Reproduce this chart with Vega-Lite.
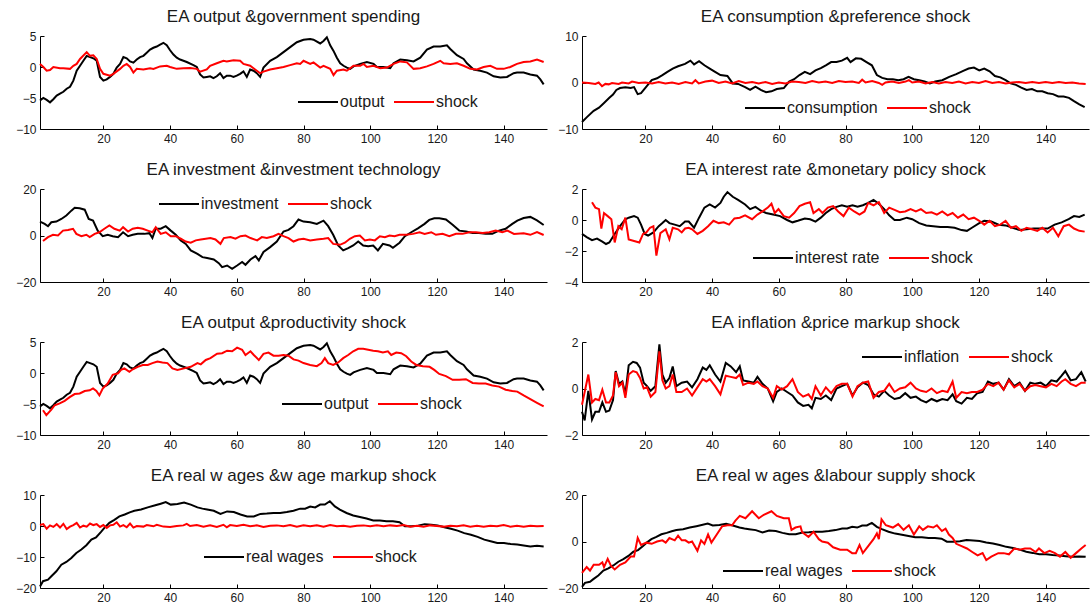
{
"$schema":"https://vega.github.io/schema/vega-lite/v6.json",
"padding":{"left":15,"top":8,"right":2,"bottom":2},
"bounds":"flush",
"columns":2,
"spacing":{"row":60,"column":35},
"config":{
 "view":{"stroke":null},
 "font":"Liberation Sans",
 "line":{"strokeWidth":2},
 "axis":{"grid":false,"domainColor":"#000000","tickColor":"#000000","labelColor":"#1a1a1a","labelFontSize":12,"tickSize":-4,"domainWidth":1,"tickWidth":1},
 "axisX":{"labelPadding":8},
 "axisY":{"labelPadding":8},
 "title":{"fontSize":17,"fontWeight":"normal","color":"#1a1a1a","offset":4},
 "legend":{"orient":"none","direction":"horizontal","symbolType":"stroke","symbolSize":1600,"symbolStrokeWidth":2.5,"labelFontSize":16,"labelColor":"#1a1a1a","columnPadding":5,"labelOffset":1,"padding":0}
},
"resolve":{"scale":{"color":"independent","x":"independent","y":"independent"},"legend":{"color":"independent"},"axis":{"x":"independent","y":"independent"}},
"concat":[
 {"width":507,"height":93,"title":"EA output &government spending",
  "encoding":{"x":{"field":"x","type":"quantitative","scale":{"domain":[1,153],"nice":false,"zero":false},"axis":{"title":null,"values":[20,40,60,80,100,120,140]}},
   "y":{"field":"v","type":"quantitative","scale":{"domain":[-10,5],"nice":false,"zero":false},"axis":{"title":null,"values":[-10,-5,0,5]}}},
  "layer":[
   {"data":{"name":"output"},"mark":"line","encoding":{"color":{"datum":"output","type":"nominal","scale":{"domain":["output","shock"],"range":["#000000","#ff0000"]},"legend":{"title":null,"legendX":257,"legendY":45}}}},
   {"data":{"name":"gshock"},"mark":"line","encoding":{"color":{"datum":"shock","type":"nominal"}}}
  ]},
 {"width":507,"height":93,"title":"EA consumption &preference shock",
  "encoding":{"x":{"field":"x","type":"quantitative","scale":{"domain":[1,153],"nice":false,"zero":false},"axis":{"title":null,"values":[20,40,60,80,100,120,140]}},
   "y":{"field":"v","type":"quantitative","scale":{"domain":[-10,10],"nice":false,"zero":false},"axis":{"title":null,"values":[-10,0,10]}}},
  "layer":[
   {"data":{"name":"consumption"},"mark":"line","encoding":{"color":{"datum":"consumption","type":"nominal","scale":{"domain":["consumption","shock"],"range":["#000000","#ff0000"]},"legend":{"title":null,"legendX":162,"legendY":51}}}},
   {"data":{"name":"pshock"},"mark":"line","encoding":{"color":{"datum":"shock","type":"nominal"}}}
  ]},
 {"width":507,"height":93,"title":"EA investment &investment technology",
  "encoding":{"x":{"field":"x","type":"quantitative","scale":{"domain":[1,153],"nice":false,"zero":false},"axis":{"title":null,"values":[20,40,60,80,100,120,140]}},
   "y":{"field":"v","type":"quantitative","scale":{"domain":[-20,20],"nice":false,"zero":false},"axis":{"title":null,"values":[-20,0,20]}}},
  "layer":[
   {"data":{"name":"investment"},"mark":"line","encoding":{"color":{"datum":"investment","type":"nominal","scale":{"domain":["investment","shock"],"range":["#000000","#ff0000"]},"legend":{"title":null,"legendX":118,"legendY":-6}}}},
   {"data":{"name":"ishock"},"mark":"line","encoding":{"color":{"datum":"shock","type":"nominal"}}}
  ]},
 {"width":507,"height":93,"title":"EA interest rate &monetary policy shock",
  "encoding":{"x":{"field":"x","type":"quantitative","scale":{"domain":[1,153],"nice":false,"zero":false},"axis":{"title":null,"values":[20,40,60,80,100,120,140]}},
   "y":{"field":"v","type":"quantitative","scale":{"domain":[-4,2],"nice":false,"zero":false},"axis":{"title":null,"values":[-4,-2,0,2]}}},
  "layer":[
   {"data":{"name":"rate"},"mark":"line","encoding":{"color":{"datum":"interest rate","type":"nominal","scale":{"domain":["interest rate","shock"],"range":["#000000","#ff0000"]},"legend":{"title":null,"legendX":170,"legendY":48}}}},
   {"data":{"name":"mpshock"},"mark":"line","encoding":{"color":{"datum":"shock","type":"nominal"}}}
  ]},
 {"width":507,"height":93,"title":"EA output &productivity shock",
  "encoding":{"x":{"field":"x","type":"quantitative","scale":{"domain":[1,153],"nice":false,"zero":false},"axis":{"title":null,"values":[20,40,60,80,100,120,140]}},
   "y":{"field":"v","type":"quantitative","scale":{"domain":[-10,5],"nice":false,"zero":false},"axis":{"title":null,"values":[-10,-5,0,5]}}},
  "layer":[
   {"data":{"name":"output"},"mark":"line","encoding":{"color":{"datum":"output","type":"nominal","scale":{"domain":["output","shock"],"range":["#000000","#ff0000"]},"legend":{"title":null,"legendX":241,"legendY":41}}}},
   {"data":{"name":"prodshock"},"mark":"line","encoding":{"color":{"datum":"shock","type":"nominal"}}}
  ]},
 {"width":507,"height":93,"title":"EA inflation &price markup shock",
  "encoding":{"x":{"field":"x","type":"quantitative","scale":{"domain":[1,153],"nice":false,"zero":false},"axis":{"title":null,"values":[20,40,60,80,100,120,140]}},
   "y":{"field":"v","type":"quantitative","scale":{"domain":[-2,2],"nice":false,"zero":false},"axis":{"title":null,"values":[-2,0,2]}}},
  "layer":[
   {"data":{"name":"inflation"},"mark":"line","encoding":{"color":{"datum":"inflation","type":"nominal","scale":{"domain":["inflation","shock"],"range":["#000000","#ff0000"]},"legend":{"title":null,"legendX":279,"legendY":-6}}}},
   {"data":{"name":"pmshock"},"mark":"line","encoding":{"color":{"datum":"shock","type":"nominal"}}}
  ]},
 {"width":507,"height":93,"title":"EA real w ages &w age markup shock",
  "encoding":{"x":{"field":"x","type":"quantitative","scale":{"domain":[1,153],"nice":false,"zero":false},"axis":{"title":null,"values":[20,40,60,80,100,120,140]}},
   "y":{"field":"v","type":"quantitative","scale":{"domain":[-20,10],"nice":false,"zero":false},"axis":{"title":null,"values":[-20,-10,0,10]}}},
  "layer":[
   {"data":{"name":"wages"},"mark":"line","encoding":{"color":{"datum":"real wages","type":"nominal","scale":{"domain":["real wages","shock"],"range":["#000000","#ff0000"]},"legend":{"title":null,"legendX":163,"legendY":41}}}},
   {"data":{"name":"wmshock"},"mark":"line","encoding":{"color":{"datum":"shock","type":"nominal"}}}
  ]},
 {"width":507,"height":93,"title":"EA real w ages &labour supply shock",
  "encoding":{"x":{"field":"x","type":"quantitative","scale":{"domain":[1,153],"nice":false,"zero":false},"axis":{"title":null,"values":[20,40,60,80,100,120,140]}},
   "y":{"field":"v","type":"quantitative","scale":{"domain":[-20,20],"nice":false,"zero":false},"axis":{"title":null,"values":[-20,0,20]}}},
  "layer":[
   {"data":{"name":"wages"},"mark":"line","encoding":{"color":{"datum":"real wages","type":"nominal","scale":{"domain":["real wages","shock"],"range":["#000000","#ff0000"]},"legend":{"title":null,"legendX":140,"legendY":55}}}},
   {"data":{"name":"lsshock"},"mark":"line","encoding":{"color":{"datum":"shock","type":"nominal"}}}
  ]}
],
"datasets":{
"output":[{"x":1,"v":-5.4},{"x":2,"v":-5.0},{"x":3,"v":-5.3},{"x":4,"v":-5.7},{"x":5,"v":-5.2},{"x":6,"v":-4.6},{"x":7,"v":-4.3},{"x":8,"v":-4.0},{"x":9,"v":-3.5},{"x":10,"v":-3.2},{"x":11,"v":-2.2},{"x":12,"v":-0.6},{"x":13,"v":0.2},{"x":14,"v":1.0},{"x":15,"v":1.8},{"x":16,"v":1.6},{"x":17,"v":1.4},{"x":18,"v":1.0},{"x":19,"v":-1.6},{"x":20,"v":-2.2},{"x":21,"v":-2.0},{"x":22,"v":-1.6},{"x":23,"v":-1.1},{"x":24,"v":-0.1},{"x":25,"v":0.5},{"x":26,"v":1.6},{"x":27,"v":1.4},{"x":28,"v":0.9},{"x":29,"v":0.7},{"x":30,"v":1.2},{"x":31,"v":1.6},{"x":32,"v":1.8},{"x":33,"v":2.3},{"x":34,"v":2.8},{"x":35,"v":3.1},{"x":36,"v":3.3},{"x":37,"v":3.6},{"x":38,"v":3.9},{"x":39,"v":3.5},{"x":40,"v":2.7},{"x":41,"v":2.0},{"x":42,"v":1.5},{"x":43,"v":1.2},{"x":44,"v":1.0},{"x":45,"v":0.8},{"x":47,"v":0.3},{"x":48,"v":0.0},{"x":49,"v":-1.2},{"x":50,"v":-1.7},{"x":51,"v":-1.6},{"x":52,"v":-1.5},{"x":53,"v":-1.8},{"x":54,"v":-1.5},{"x":55,"v":-1.0},{"x":56,"v":-1.8},{"x":57,"v":-1.4},{"x":58,"v":-1.4},{"x":59,"v":-1.6},{"x":60,"v":-1.4},{"x":61,"v":-1.1},{"x":62,"v":-0.7},{"x":63,"v":-1.6},{"x":64,"v":-0.4},{"x":65,"v":-0.6},{"x":66,"v":-1.0},{"x":67,"v":-1.6},{"x":68,"v":-0.1},{"x":70,"v":1.0},{"x":72,"v":1.6},{"x":74,"v":2.4},{"x":76,"v":3.2},{"x":78,"v":4.0},{"x":80,"v":4.4},{"x":82,"v":4.5},{"x":83,"v":4.4},{"x":85,"v":3.8},{"x":86,"v":4.2},{"x":87,"v":4.8},{"x":88,"v":3.5},{"x":89,"v":2.6},{"x":90,"v":1.5},{"x":91,"v":0.6},{"x":92,"v":0.2},{"x":93,"v":-0.1},{"x":94,"v":-0.3},{"x":95,"v":0.1},{"x":97,"v":0.5},{"x":99,"v":0.8},{"x":101,"v":0.5},{"x":102,"v":0.0},{"x":104,"v":0.0},{"x":106,"v":-0.2},{"x":107,"v":0.6},{"x":109,"v":1.2},{"x":111,"v":1.1},{"x":113,"v":0.9},{"x":115,"v":1.5},{"x":117,"v":2.8},{"x":119,"v":3.3},{"x":121,"v":3.3},{"x":123,"v":3.5},{"x":124,"v":2.9},{"x":126,"v":1.9},{"x":128,"v":1.3},{"x":129,"v":0.6},{"x":131,"v":-0.4},{"x":133,"v":-0.6},{"x":135,"v":-0.9},{"x":137,"v":-1.5},{"x":139,"v":-1.7},{"x":141,"v":-1.6},{"x":143,"v":-1.0},{"x":144,"v":-0.9},{"x":146,"v":-0.9},{"x":148,"v":-1.2},{"x":150,"v":-1.4},{"x":151,"v":-2.0},{"x":152,"v":-2.8}],
"gshock":[{"x":1,"v":0.5},{"x":2,"v":0.0},{"x":3,"v":-0.6},{"x":4,"v":-0.5},{"x":5,"v":0.0},{"x":7,"v":-0.2},{"x":8,"v":-0.2},{"x":10,"v":-0.3},{"x":11,"v":0.2},{"x":12,"v":0.5},{"x":13,"v":1.3},{"x":15,"v":2.4},{"x":16,"v":1.8},{"x":17,"v":1.9},{"x":18,"v":1.3},{"x":19,"v":-0.3},{"x":20,"v":-1.1},{"x":22,"v":-1.4},{"x":23,"v":-1.1},{"x":25,"v":-0.3},{"x":26,"v":0.2},{"x":27,"v":0.5},{"x":28,"v":0.0},{"x":29,"v":-0.9},{"x":30,"v":-0.3},{"x":32,"v":-0.4},{"x":34,"v":-0.2},{"x":35,"v":-0.3},{"x":37,"v":0.1},{"x":39,"v":0.2},{"x":40,"v":0.0},{"x":42,"v":-0.3},{"x":44,"v":-0.2},{"x":46,"v":-0.15},{"x":48,"v":-0.3},{"x":49,"v":-0.75},{"x":51,"v":-0.4},{"x":52,"v":0.2},{"x":54,"v":0.6},{"x":56,"v":1.0},{"x":57,"v":0.9},{"x":59,"v":1.1},{"x":61,"v":1.0},{"x":62,"v":0.5},{"x":64,"v":0.2},{"x":65,"v":-0.2},{"x":67,"v":-1.0},{"x":68,"v":-0.75},{"x":70,"v":-0.4},{"x":72,"v":-0.2},{"x":74,"v":0.0},{"x":76,"v":0.3},{"x":78,"v":0.6},{"x":79,"v":0.5},{"x":80,"v":1.0},{"x":82,"v":0.5},{"x":83,"v":0.75},{"x":85,"v":-0.1},{"x":86,"v":0.2},{"x":88,"v":-0.3},{"x":89,"v":-1.3},{"x":90,"v":-0.6},{"x":92,"v":-0.4},{"x":93,"v":-0.6},{"x":95,"v":0.2},{"x":97,"v":0.2},{"x":98,"v":0.5},{"x":99,"v":0.0},{"x":101,"v":0.2},{"x":103,"v":-0.2},{"x":105,"v":-0.1},{"x":107,"v":0.5},{"x":109,"v":0.9},{"x":111,"v":0.75},{"x":113,"v":-0.3},{"x":115,"v":-0.2},{"x":117,"v":0.1},{"x":119,"v":0.5},{"x":121,"v":1.0},{"x":122,"v":0.6},{"x":124,"v":0.5},{"x":126,"v":0.6},{"x":128,"v":0.2},{"x":130,"v":-0.3},{"x":132,"v":-0.4},{"x":134,"v":0.0},{"x":136,"v":0.2},{"x":138,"v":-0.3},{"x":140,"v":-0.3},{"x":142,"v":0.0},{"x":144,"v":0.5},{"x":146,"v":0.8},{"x":148,"v":0.9},{"x":150,"v":1.2},{"x":152,"v":0.8}],
"consumption":[{"x":1,"v":-8.5},{"x":2.4,"v":-7.5},{"x":4.5,"v":-6.1},{"x":6.1,"v":-5.4},{"x":7.6,"v":-4.4},{"x":9.2,"v":-3.3},{"x":10.3,"v":-2.6},{"x":11.3,"v":-1.6},{"x":12.4,"v":-1.2},{"x":14,"v":-1.0},{"x":15.6,"v":-1.2},{"x":16.6,"v":-1.0},{"x":17.7,"v":-2.5},{"x":18.7,"v":-2.3},{"x":20.3,"v":-0.9},{"x":21.9,"v":0.5},{"x":23.5,"v":0.9},{"x":25.1,"v":1.6},{"x":26.6,"v":2.3},{"x":28.2,"v":3.0},{"x":29.8,"v":3.5},{"x":31.9,"v":4.0},{"x":33.5,"v":4.7},{"x":34.6,"v":3.9},{"x":36.1,"v":4.6},{"x":37.7,"v":3.7},{"x":39.3,"v":3.0},{"x":40.9,"v":2.3},{"x":42.5,"v":1.6},{"x":44.6,"v":1.4},{"x":46.2,"v":-0.2},{"x":47.8,"v":-0.3},{"x":49.9,"v":-1.0},{"x":51.4,"v":-1.6},{"x":53,"v":-0.9},{"x":54.6,"v":-1.6},{"x":56.2,"v":-2.1},{"x":57.8,"v":-1.9},{"x":59.4,"v":-1.4},{"x":61.5,"v":-1.2},{"x":63.1,"v":0.2},{"x":64.6,"v":0.7},{"x":66.2,"v":1.6},{"x":67.8,"v":2.3},{"x":69.4,"v":1.8},{"x":71,"v":2.6},{"x":72.6,"v":3.1},{"x":74.1,"v":3.7},{"x":75.7,"v":4.4},{"x":77.3,"v":4.4},{"x":78.9,"v":4.7},{"x":80.5,"v":5.3},{"x":81.5,"v":4.4},{"x":83.1,"v":5.2},{"x":84.7,"v":5.1},{"x":86.3,"v":4.4},{"x":87.9,"v":3.7},{"x":89.4,"v":1.6},{"x":91,"v":1.0},{"x":92.6,"v":0.7},{"x":94.2,"v":0.7},{"x":95.8,"v":0.5},{"x":97.4,"v":0.7},{"x":98.9,"v":1.2},{"x":100.5,"v":0.7},{"x":102.1,"v":0.5},{"x":103.7,"v":0.2},{"x":105.3,"v":-0.2},{"x":106.9,"v":0.2},{"x":109,"v":0.5},{"x":111.1,"v":1.2},{"x":113.2,"v":1.8},{"x":115.3,"v":2.5},{"x":116.9,"v":3.0},{"x":118.5,"v":3.2},{"x":120.1,"v":2.6},{"x":121.6,"v":3.0},{"x":123.2,"v":2.4},{"x":124.8,"v":1.4},{"x":126.4,"v":1.1},{"x":128,"v":0.5},{"x":129.5,"v":-0.2},{"x":131.1,"v":-0.5},{"x":132.7,"v":-1.1},{"x":134.3,"v":-1.6},{"x":135.9,"v":-1.4},{"x":137.5,"v":-1.9},{"x":139,"v":-1.9},{"x":140.6,"v":-2.3},{"x":142.2,"v":-2.5},{"x":143.8,"v":-3.0},{"x":145.4,"v":-3.0},{"x":147,"v":-3.3},{"x":148.5,"v":-4.0},{"x":150.1,"v":-4.7},{"x":151.7,"v":-5.3}],
"pshock":[{"x":1,"v":0},{"x":3,"v":-0.1},{"x":5,"v":-0.3},{"x":6,"v":0},{"x":7,"v":-0.8},{"x":8,"v":-0.3},{"x":9,"v":-0.4},{"x":10,"v":-0.1},{"x":12,"v":-0.3},{"x":13,"v":0},{"x":15,"v":-0.2},{"x":16,"v":0.2},{"x":18,"v":-0.1},{"x":20,"v":0},{"x":22,"v":-0.2},{"x":24,"v":0.1},{"x":26,"v":-0.2},{"x":28,"v":0},{"x":30,"v":-0.3},{"x":32,"v":0.1},{"x":34,"v":-0.2},{"x":35,"v":0.5},{"x":36,"v":-0.2},{"x":38,"v":0.2},{"x":40,"v":0.4},{"x":42,"v":-0.1},{"x":44,"v":0.2},{"x":46,"v":-0.2},{"x":48,"v":0.3},{"x":50,"v":-0.1},{"x":52,"v":0.1},{"x":54,"v":-0.2},{"x":56,"v":0.1},{"x":58,"v":-0.3},{"x":60,"v":0},{"x":62,"v":-0.2},{"x":64,"v":0.2},{"x":66,"v":0.1},{"x":68,"v":-0.1},{"x":70,"v":0.3},{"x":72,"v":0},{"x":74,"v":0.2},{"x":76,"v":-0.1},{"x":78,"v":0.3},{"x":80,"v":0.1},{"x":82,"v":0.2},{"x":84,"v":-0.1},{"x":85,"v":0.6},{"x":86,"v":0},{"x":88,"v":0.3},{"x":90,"v":-0.1},{"x":91,"v":-0.5},{"x":92,"v":0},{"x":94,"v":0.2},{"x":96,"v":-0.1},{"x":98,"v":0.2},{"x":99,"v":0.5},{"x":100,"v":0},{"x":102,"v":0.2},{"x":104,"v":-0.2},{"x":106,"v":0.1},{"x":108,"v":-0.2},{"x":110,"v":0.1},{"x":112,"v":-0.1},{"x":114,"v":0.2},{"x":116,"v":-0.2},{"x":118,"v":0.1},{"x":120,"v":-0.1},{"x":122,"v":0.3},{"x":124,"v":-0.1},{"x":126,"v":0.1},{"x":128,"v":-0.2},{"x":130,"v":0},{"x":132,"v":0.1},{"x":134,"v":-0.1},{"x":136,"v":0.1},{"x":138,"v":-0.1},{"x":140,"v":0.1},{"x":142,"v":-0.1},{"x":144,"v":0.1},{"x":146,"v":-0.1},{"x":148,"v":0},{"x":150,"v":-0.2},{"x":152,"v":-0.3}],
"investment":[{"x":1,"v":6.0},{"x":2.4,"v":5.0},{"x":3.4,"v":4.0},{"x":4.4,"v":5.7},{"x":5.9,"v":6.0},{"x":7.4,"v":7.1},{"x":8.9,"v":8.6},{"x":10.4,"v":10.7},{"x":11.4,"v":11.9},{"x":12.9,"v":11.7},{"x":14.4,"v":11.1},{"x":15.6,"v":7.1},{"x":16.9,"v":6.4},{"x":18.3,"v":2.1},{"x":19.8,"v":-0.3},{"x":21.3,"v":0.3},{"x":22.8,"v":-0.3},{"x":24.4,"v":-0.7},{"x":25.9,"v":1.4},{"x":27.4,"v":-0.3},{"x":28.8,"v":0.3},{"x":30.3,"v":0.7},{"x":32.3,"v":0.7},{"x":33.8,"v":1.0},{"x":34.7,"v":-1.1},{"x":35.7,"v":2.9},{"x":37.2,"v":2.9},{"x":38.7,"v":4.0},{"x":40.2,"v":2.1},{"x":41.7,"v":0.3},{"x":43.2,"v":-2.1},{"x":44.7,"v":-3.6},{"x":46.2,"v":-6.4},{"x":48.2,"v":-7.9},{"x":49.7,"v":-9.3},{"x":51.1,"v":-9.7},{"x":53.1,"v":-10.3},{"x":54.6,"v":-11.9},{"x":55.6,"v":-13.6},{"x":57.1,"v":-12.9},{"x":58.6,"v":-14.3},{"x":60.1,"v":-12.9},{"x":61.6,"v":-11.4},{"x":62.6,"v":-12.6},{"x":64.1,"v":-10.3},{"x":65.6,"v":-8.9},{"x":66.6,"v":-10.7},{"x":68,"v":-7.1},{"x":70,"v":-5.0},{"x":72,"v":-2.6},{"x":74,"v":1.7},{"x":75.5,"v":2.4},{"x":77,"v":4.0},{"x":78.5,"v":6.9},{"x":80,"v":6.0},{"x":82,"v":5.7},{"x":84,"v":5.0},{"x":86,"v":6.4},{"x":87.4,"v":4.0},{"x":88.9,"v":0.3},{"x":90.4,"v":-4.3},{"x":91.9,"v":-6.4},{"x":93.4,"v":-5.4},{"x":94.9,"v":-4.3},{"x":96.4,"v":-2.6},{"x":97.9,"v":-4.3},{"x":99.4,"v":-4.6},{"x":100.9,"v":-4.3},{"x":102.3,"v":-6.4},{"x":103.8,"v":-3.6},{"x":105.8,"v":-4.3},{"x":106.8,"v":-5.3},{"x":108.8,"v":-3.1},{"x":110.4,"v":-0.3},{"x":112.3,"v":1.4},{"x":114.3,"v":3.1},{"x":116.3,"v":5.0},{"x":117.7,"v":6.7},{"x":119.2,"v":7.4},{"x":120.7,"v":7.4},{"x":122.7,"v":6.9},{"x":124.7,"v":4.6},{"x":126.7,"v":2.1},{"x":128.7,"v":1.7},{"x":130.7,"v":1.1},{"x":132.6,"v":1.1},{"x":134.6,"v":0.7},{"x":136.6,"v":0.7},{"x":138.6,"v":2.1},{"x":140.6,"v":2.9},{"x":142.6,"v":5.0},{"x":144.1,"v":6.4},{"x":146,"v":7.5},{"x":148,"v":8.0},{"x":150,"v":6.5},{"x":152,"v":4.5}],
"ishock":[{"x":1.9,"v":-2.4},{"x":3.4,"v":-0.7},{"x":4.9,"v":0.3},{"x":6.4,"v":0},{"x":7.9,"v":2.1},{"x":9.4,"v":2.4},{"x":10.9,"v":2.9},{"x":11.9,"v":0.7},{"x":13.4,"v":-0.3},{"x":14.9,"v":0.3},{"x":15.9,"v":-0.7},{"x":17.4,"v":0.7},{"x":18.8,"v":1.4},{"x":20.3,"v":2.9},{"x":21.8,"v":4.3},{"x":23.3,"v":2.9},{"x":24.9,"v":2.1},{"x":25.9,"v":3.6},{"x":27.4,"v":1.7},{"x":28.8,"v":2.9},{"x":30.3,"v":3.3},{"x":31.8,"v":2.9},{"x":33.3,"v":2.1},{"x":34.7,"v":1.4},{"x":35.7,"v":3.6},{"x":37.2,"v":0.7},{"x":38.7,"v":1.4},{"x":40.2,"v":-0.3},{"x":41.7,"v":-0.3},{"x":43.2,"v":-1.4},{"x":44.7,"v":-2.6},{"x":46.2,"v":-3.1},{"x":47.7,"v":-2.1},{"x":49.2,"v":-1.7},{"x":50.7,"v":-1.4},{"x":52.1,"v":-1.1},{"x":53.6,"v":-1.7},{"x":55.1,"v":-3.6},{"x":56.1,"v":-1.1},{"x":58.1,"v":-0.7},{"x":59.6,"v":-1.4},{"x":61.1,"v":-0.3},{"x":62.6,"v":0},{"x":64.1,"v":-1.1},{"x":66.1,"v":-2.1},{"x":67.5,"v":-0.7},{"x":69,"v":-1.1},{"x":71,"v":-0.3},{"x":72.5,"v":0.7},{"x":74,"v":-0.3},{"x":75.5,"v":-1.1},{"x":77,"v":-2.6},{"x":78.5,"v":-1.7},{"x":80,"v":-1.4},{"x":82,"v":-2.1},{"x":84,"v":-1.7},{"x":86,"v":-1.4},{"x":87.4,"v":-1.1},{"x":88.9,"v":-3.6},{"x":90.9,"v":-4.0},{"x":92.4,"v":-3.1},{"x":93.9,"v":-1.4},{"x":95.4,"v":-0.3},{"x":96.9,"v":0},{"x":98.4,"v":-2.1},{"x":99.9,"v":-1.7},{"x":101.4,"v":-2.1},{"x":102.9,"v":-0.3},{"x":104.4,"v":-0.7},{"x":105.8,"v":0},{"x":107.3,"v":-0.3},{"x":108.8,"v":0.3},{"x":110.8,"v":0.3},{"x":112.8,"v":0.7},{"x":114.8,"v":1.4},{"x":116.3,"v":0.7},{"x":118.3,"v":1.4},{"x":119.7,"v":0.3},{"x":121.7,"v":0.7},{"x":123.7,"v":-0.3},{"x":125.7,"v":0.7},{"x":127.7,"v":0.7},{"x":129.7,"v":1.4},{"x":131.7,"v":1.4},{"x":133.7,"v":1.1},{"x":135.7,"v":1.4},{"x":137.6,"v":2.1},{"x":139.6,"v":1.4},{"x":141.1,"v":2.1},{"x":143.1,"v":0.7},{"x":146,"v":1.0},{"x":148,"v":0.3},{"x":150,"v":1.5},{"x":152,"v":0.2}],
"rate":[{"x":1,"v":-0.9},{"x":2.4,"v":-1.1},{"x":4,"v":-1.3},{"x":5.5,"v":-1.2},{"x":7.1,"v":-1.4},{"x":8.2,"v":-1.55},{"x":9.2,"v":-1.45},{"x":10.8,"v":-0.9},{"x":12.4,"v":-0.4},{"x":14,"v":0.05},{"x":15,"v":0.15},{"x":16.6,"v":0.25},{"x":17.7,"v":0.15},{"x":18.7,"v":-0.3},{"x":19.8,"v":-0.9},{"x":20.8,"v":-1.0},{"x":22.4,"v":-0.8},{"x":24,"v":-0.4},{"x":25.1,"v":-0.2},{"x":26.1,"v":0},{"x":27.2,"v":-0.2},{"x":28.8,"v":-0.3},{"x":30.3,"v":-0.4},{"x":31.9,"v":-0.1},{"x":33,"v":-0.1},{"x":34.6,"v":-0.5},{"x":36.1,"v":0.15},{"x":37.7,"v":0.8},{"x":39.3,"v":1.0},{"x":40.9,"v":0.8},{"x":42.5,"v":1.1},{"x":43.5,"v":1.5},{"x":44.6,"v":1.8},{"x":46.2,"v":1.5},{"x":47.8,"v":1.3},{"x":49.9,"v":1.0},{"x":51.4,"v":0.7},{"x":53,"v":0.85},{"x":54.6,"v":0.6},{"x":56.2,"v":0.45},{"x":58.3,"v":0.35},{"x":60.4,"v":0.25},{"x":62.5,"v":0},{"x":64.1,"v":-0.15},{"x":65.7,"v":-0.05},{"x":67.8,"v":0.1},{"x":69.4,"v":0.05},{"x":71,"v":-0.1},{"x":72.6,"v":0.15},{"x":74.1,"v":0.45},{"x":75.7,"v":0.7},{"x":77.3,"v":0.85},{"x":78.9,"v":0.95},{"x":80.5,"v":0.85},{"x":82.1,"v":0.95},{"x":83.6,"v":0.85},{"x":85.2,"v":0.95},{"x":86.8,"v":1.1},{"x":88.4,"v":1.3},{"x":90,"v":1.05},{"x":91.6,"v":0.7},{"x":93.1,"v":0.3},{"x":94.7,"v":0},{"x":96.3,"v":0},{"x":98.4,"v":0.15},{"x":100,"v":0.05},{"x":102.1,"v":-0.2},{"x":104.2,"v":-0.35},{"x":106.3,"v":-0.4},{"x":108.4,"v":-0.45},{"x":110.6,"v":-0.45},{"x":112.7,"v":-0.5},{"x":114.8,"v":-0.65},{"x":116.4,"v":-0.7},{"x":117.9,"v":-0.5},{"x":120.1,"v":-0.2},{"x":121.6,"v":-0.05},{"x":123.7,"v":-0.1},{"x":125.9,"v":-0.3},{"x":128,"v":-0.35},{"x":130.1,"v":-0.5},{"x":132.2,"v":-0.65},{"x":134.3,"v":-0.6},{"x":136.4,"v":-0.55},{"x":138.5,"v":-0.55},{"x":140.6,"v":-0.55},{"x":142.7,"v":-0.3},{"x":144.8,"v":-0.15},{"x":146.9,"v":0.05},{"x":148.5,"v":0.25},{"x":150.1,"v":0.2},{"x":151.7,"v":0.35}],
"mpshock":[{"x":4,"v":1.15},{"x":5,"v":0.8},{"x":6.1,"v":0.7},{"x":6.8,"v":-0.55},{"x":7.6,"v":0.45},{"x":8.7,"v":0.25},{"x":9.8,"v":0.05},{"x":10.8,"v":-1.45},{"x":11.9,"v":-0.4},{"x":12.9,"v":-0.6},{"x":14,"v":0.15},{"x":15,"v":-1.25},{"x":16.6,"v":-1.35},{"x":18.2,"v":-1.45},{"x":19.3,"v":-0.9},{"x":20.3,"v":-0.8},{"x":21.4,"v":-0.5},{"x":22.4,"v":-0.4},{"x":23.3,"v":-2.3},{"x":24.5,"v":-0.85},{"x":26.1,"v":-0.6},{"x":27.2,"v":-1.25},{"x":28.2,"v":-0.5},{"x":29.8,"v":-0.6},{"x":30.9,"v":-0.8},{"x":31.9,"v":-0.55},{"x":33,"v":-0.5},{"x":34,"v":-0.6},{"x":35.6,"v":-0.9},{"x":37.2,"v":-0.7},{"x":38.8,"v":-0.4},{"x":40.4,"v":-0.05},{"x":42,"v":-0.2},{"x":43.5,"v":-0.15},{"x":45.1,"v":-0.3},{"x":46.7,"v":0.1},{"x":48.3,"v":0.15},{"x":49.9,"v":0.3},{"x":52,"v":0.05},{"x":53.6,"v":0.35},{"x":55.1,"v":0.55},{"x":56.7,"v":0.8},{"x":57.8,"v":1.05},{"x":58.8,"v":0.45},{"x":59.9,"v":0.7},{"x":61.5,"v":0.25},{"x":63.1,"v":0.15},{"x":64.6,"v":0.45},{"x":66.2,"v":0.9},{"x":67.8,"v":1.05},{"x":69.4,"v":1.15},{"x":70.4,"v":0.45},{"x":72,"v":0.7},{"x":73.1,"v":0.45},{"x":74.7,"v":0.8},{"x":76.3,"v":0.9},{"x":77.8,"v":0.55},{"x":79.4,"v":0.25},{"x":81,"v":0.8},{"x":82.6,"v":0.55},{"x":84.2,"v":0.35},{"x":85.7,"v":0.55},{"x":86.8,"v":1.1},{"x":88.4,"v":0.95},{"x":90,"v":1.15},{"x":91.6,"v":0.45},{"x":93.1,"v":0.8},{"x":94.7,"v":0.65},{"x":96.3,"v":0.5},{"x":97.9,"v":0.55},{"x":99.5,"v":0.7},{"x":101.1,"v":0.55},{"x":102.6,"v":0.7},{"x":104.2,"v":0.45},{"x":105.8,"v":0.5},{"x":107.4,"v":0.35},{"x":109,"v":0.55},{"x":110.6,"v":0.3},{"x":112.1,"v":0.45},{"x":113.7,"v":0.15},{"x":115.3,"v":0.35},{"x":116.9,"v":0.05},{"x":118.5,"v":0.15},{"x":120.1,"v":-0.05},{"x":121.6,"v":-0.3},{"x":123.2,"v":-0.05},{"x":124.8,"v":-0.4},{"x":126.4,"v":-0.3},{"x":128,"v":-0.05},{"x":129.6,"v":-0.5},{"x":131.1,"v":-0.4},{"x":132.7,"v":-0.7},{"x":134.3,"v":-0.5},{"x":135.9,"v":-0.6},{"x":137.5,"v":-0.7},{"x":139,"v":-0.5},{"x":140.6,"v":-0.8},{"x":142.2,"v":-0.5},{"x":143.8,"v":-1.05},{"x":145.4,"v":-0.4},{"x":147,"v":-0.3},{"x":148.5,"v":-0.55},{"x":150.1,"v":-0.7},{"x":151.7,"v":-0.75}],
"prodshock":[{"x":1.9,"v":-6.0},{"x":2.9,"v":-6.8},{"x":4.4,"v":-5.9},{"x":5.4,"v":-5.2},{"x":6.9,"v":-4.9},{"x":8.4,"v":-4.5},{"x":9.9,"v":-3.9},{"x":11.4,"v":-3.4},{"x":12.9,"v":-3.3},{"x":14.4,"v":-2.9},{"x":15.9,"v":-2.8},{"x":16.9,"v":-2.5},{"x":17.9,"v":-2.9},{"x":18.8,"v":-3.6},{"x":19.8,"v":-2.5},{"x":21.3,"v":-1.7},{"x":22.8,"v":-0.3},{"x":24.4,"v":-0.05},{"x":25.3,"v":0.5},{"x":26.3,"v":0.75},{"x":27.8,"v":0.2},{"x":28.8,"v":0.6},{"x":30.3,"v":1.0},{"x":31.8,"v":1.3},{"x":33.3,"v":1.3},{"x":34.7,"v":1.6},{"x":36.2,"v":1.85},{"x":37.7,"v":1.7},{"x":39.2,"v":1.6},{"x":40.7,"v":0.75},{"x":42.2,"v":0.5},{"x":44.2,"v":0.75},{"x":46.2,"v":1.0},{"x":48.2,"v":1.6},{"x":49.2,"v":1.4},{"x":50.7,"v":2.1},{"x":52.1,"v":2.4},{"x":54.1,"v":3.1},{"x":55.6,"v":3.2},{"x":57.1,"v":3.6},{"x":58.6,"v":3.5},{"x":60.1,"v":4.1},{"x":61.6,"v":3.75},{"x":62.6,"v":2.9},{"x":64.1,"v":3.5},{"x":65.1,"v":2.9},{"x":66.6,"v":2.1},{"x":68,"v":3.1},{"x":69.5,"v":3.3},{"x":71,"v":2.8},{"x":72.5,"v":2.8},{"x":74,"v":2.9},{"x":75.5,"v":2.8},{"x":77,"v":2.2},{"x":78.5,"v":2.0},{"x":80,"v":1.6},{"x":82,"v":1.3},{"x":84,"v":1.1},{"x":85.4,"v":1.6},{"x":86.4,"v":2.4},{"x":87.4,"v":1.6},{"x":88.9,"v":1.3},{"x":90.4,"v":1.7},{"x":91.9,"v":2.4},{"x":93.4,"v":2.9},{"x":94.9,"v":3.5},{"x":96.4,"v":3.9},{"x":97.9,"v":3.9},{"x":99.4,"v":3.75},{"x":100.9,"v":3.6},{"x":102.3,"v":3.5},{"x":103.8,"v":3.3},{"x":105.3,"v":3.5},{"x":106.3,"v":2.9},{"x":107.8,"v":3.3},{"x":109.3,"v":3.2},{"x":110.8,"v":2.7},{"x":112.3,"v":1.85},{"x":113.8,"v":1.3},{"x":115.8,"v":1.1},{"x":117.8,"v":1.0},{"x":119.2,"v":0.5},{"x":120.7,"v":-0.15},{"x":122.7,"v":-0.5},{"x":124.7,"v":-1.1},{"x":126.7,"v":-1.1},{"x":128.7,"v":-1.0},{"x":130.7,"v":-1.6},{"x":132.6,"v":-1.7},{"x":134.6,"v":-1.7},{"x":136.6,"v":-2.0},{"x":138.6,"v":-2.2},{"x":140.6,"v":-2.7},{"x":142.6,"v":-2.9},{"x":144.1,"v":-3.0},{"x":146,"v":-3.6},{"x":148,"v":-4.2},{"x":150,"v":-4.8},{"x":152,"v":-5.4}],
"inflation":[{"x":1,"v":-1.0},{"x":1.8,"v":-1.37},{"x":2.9,"v":-0.1},{"x":4,"v":-1.33},{"x":5,"v":-1.0},{"x":6.1,"v":-1.0},{"x":7.1,"v":-0.6},{"x":8.2,"v":-1.0},{"x":9.2,"v":-0.95},{"x":10.3,"v":-0.5},{"x":11.1,"v":0.75},{"x":12.1,"v":0.2},{"x":13.1,"v":0.3},{"x":14,"v":-0.25},{"x":15,"v":1.0},{"x":16.3,"v":1.15},{"x":17.4,"v":1.1},{"x":18.4,"v":0.9},{"x":19.5,"v":0.25},{"x":20.5,"v":0.1},{"x":21.6,"v":-0.1},{"x":23,"v":0.1},{"x":24.2,"v":1.9},{"x":25.1,"v":0.6},{"x":26.1,"v":0.25},{"x":27.2,"v":0.45},{"x":28.2,"v":0.95},{"x":29.3,"v":0.1},{"x":30.9,"v":0.25},{"x":32.5,"v":0.3},{"x":34,"v":0.05},{"x":35.6,"v":0.4},{"x":37.2,"v":0.9},{"x":38.3,"v":0.8},{"x":39.3,"v":1.0},{"x":40.9,"v":0.6},{"x":42.5,"v":0.3},{"x":44.1,"v":1.1},{"x":45.6,"v":0.95},{"x":47.2,"v":0.7},{"x":48.3,"v":0.95},{"x":49.3,"v":0.35},{"x":50.9,"v":0.3},{"x":52.5,"v":0.25},{"x":53.6,"v":0.5},{"x":55.1,"v":0.2},{"x":56.7,"v":0},{"x":58.3,"v":-0.55},{"x":59.4,"v":-0.15},{"x":60.9,"v":0},{"x":62.5,"v":-0.15},{"x":64.1,"v":-0.3},{"x":65.7,"v":-0.6},{"x":67.3,"v":-0.75},{"x":68.9,"v":-0.7},{"x":69.9,"v":-0.85},{"x":71,"v":-0.4},{"x":72.6,"v":-0.45},{"x":74.1,"v":-0.3},{"x":75.7,"v":-0.5},{"x":77.3,"v":0},{"x":78.9,"v":0.1},{"x":80.5,"v":0.2},{"x":82.1,"v":-0.3},{"x":83.6,"v":0.05},{"x":85.2,"v":0.25},{"x":86.8,"v":0.15},{"x":88.4,"v":-0.25},{"x":90,"v":-0.35},{"x":91.6,"v":-0.1},{"x":93.1,"v":-0.3},{"x":94.7,"v":-0.45},{"x":96.3,"v":-0.4},{"x":97.9,"v":-0.2},{"x":99.5,"v":-0.4},{"x":101.1,"v":-0.35},{"x":102.6,"v":-0.5},{"x":104.2,"v":-0.6},{"x":105.8,"v":-0.45},{"x":107.4,"v":-0.55},{"x":109,"v":-0.45},{"x":110.6,"v":-0.5},{"x":112.1,"v":-0.25},{"x":113.2,"v":-0.55},{"x":114.8,"v":-0.65},{"x":116.4,"v":-0.4},{"x":117.9,"v":-0.45},{"x":119.5,"v":-0.2},{"x":121.1,"v":-0.15},{"x":122.7,"v":0.3},{"x":124.3,"v":0.2},{"x":125.9,"v":0.25},{"x":127.4,"v":-0.05},{"x":129,"v":0.4},{"x":130.6,"v":0.1},{"x":132.2,"v":0.25},{"x":133.8,"v":-0.1},{"x":135.4,"v":0.25},{"x":136.9,"v":0.2},{"x":138.5,"v":0.25},{"x":140.1,"v":0.1},{"x":141.7,"v":0.35},{"x":143.3,"v":0.3},{"x":144.8,"v":0.55},{"x":145.9,"v":0.75},{"x":147.5,"v":0.35},{"x":149.1,"v":0.4},{"x":150.7,"v":0.7},{"x":152,"v":0.3}],
"pmshock":[{"x":1,"v":-0.7},{"x":2.9,"v":0.6},{"x":4,"v":-0.6},{"x":5,"v":-0.45},{"x":6.1,"v":-0.5},{"x":7.1,"v":-0.05},{"x":8.2,"v":-0.6},{"x":9.2,"v":-0.6},{"x":10.3,"v":-0.3},{"x":11.1,"v":0.7},{"x":12.1,"v":0.1},{"x":13.1,"v":0.25},{"x":14,"v":-0.4},{"x":15,"v":0.6},{"x":16.3,"v":0.75},{"x":17.4,"v":0.7},{"x":18.4,"v":0.45},{"x":19.5,"v":0},{"x":20.5,"v":0.05},{"x":21.6,"v":-0.35},{"x":23,"v":-0.15},{"x":24.2,"v":1.6},{"x":25.1,"v":0.35},{"x":26.1,"v":0},{"x":27.2,"v":0.1},{"x":28.2,"v":0.6},{"x":29.3,"v":-0.15},{"x":30.9,"v":-0.15},{"x":32.5,"v":0},{"x":34,"v":-0.3},{"x":35.6,"v":0.05},{"x":37.2,"v":0.4},{"x":38.3,"v":0.3},{"x":39.3,"v":0.4},{"x":40.9,"v":0.1},{"x":42.5,"v":-0.25},{"x":44.1,"v":0.55},{"x":45.6,"v":0.5},{"x":47.2,"v":0.45},{"x":48.3,"v":0.6},{"x":49.3,"v":0.15},{"x":50.9,"v":0.25},{"x":52.5,"v":0.2},{"x":53.6,"v":0.3},{"x":55.1,"v":0.1},{"x":56.7,"v":0},{"x":58.3,"v":-0.4},{"x":59.4,"v":0.1},{"x":60.9,"v":-0.05},{"x":62.5,"v":0.1},{"x":64.1,"v":0.4},{"x":65.7,"v":-0.15},{"x":67.3,"v":-0.35},{"x":68.9,"v":-0.25},{"x":69.9,"v":-0.45},{"x":71,"v":0.1},{"x":72.6,"v":-0.3},{"x":74.1,"v":0.05},{"x":75.7,"v":-0.2},{"x":77.3,"v":0.1},{"x":78.9,"v":0.2},{"x":80.5,"v":0.2},{"x":82.1,"v":-0.35},{"x":83.6,"v":0.1},{"x":85.2,"v":0.25},{"x":86.8,"v":0.3},{"x":88.4,"v":-0.4},{"x":90,"v":-0.15},{"x":91.6,"v":-0.1},{"x":93.1,"v":0.2},{"x":94.7,"v":-0.15},{"x":96.3,"v":0},{"x":97.9,"v":0.05},{"x":99.5,"v":0.25},{"x":101.1,"v":0},{"x":102.6,"v":-0.1},{"x":104.2,"v":-0.15},{"x":105.8,"v":0},{"x":107.4,"v":-0.2},{"x":109,"v":-0.1},{"x":110.6,"v":-0.15},{"x":112.1,"v":0.3},{"x":113.2,"v":-0.4},{"x":114.8,"v":-0.15},{"x":116.4,"v":-0.2},{"x":117.9,"v":-0.15},{"x":119.5,"v":-0.15},{"x":121.1,"v":-0.05},{"x":122.7,"v":0.2},{"x":124.3,"v":0.1},{"x":125.9,"v":0.25},{"x":127.4,"v":-0.05},{"x":129,"v":0.35},{"x":130.6,"v":0.05},{"x":132.2,"v":0.2},{"x":133.8,"v":-0.1},{"x":135.4,"v":0.1},{"x":136.9,"v":0.15},{"x":138.5,"v":0.1},{"x":140.1,"v":0.05},{"x":141.7,"v":0.2},{"x":143.3,"v":0.1},{"x":144.8,"v":0.3},{"x":145.9,"v":0.4},{"x":147.5,"v":0.2},{"x":149.1,"v":0.1},{"x":150.7,"v":0.25},{"x":152,"v":0.25}],
"wages":[{"x":1,"v":-19.5},{"x":1.9,"v":-17.8},{"x":3.4,"v":-17.3},{"x":4.4,"v":-16.2},{"x":5.9,"v":-14.6},{"x":7.4,"v":-12.5},{"x":8.9,"v":-11.6},{"x":10.4,"v":-10.3},{"x":11.9,"v":-8.7},{"x":13.4,"v":-7.6},{"x":14.9,"v":-6.2},{"x":16.4,"v":-4.4},{"x":17.8,"v":-3.7},{"x":19.3,"v":-1.9},{"x":20.3,"v":-0.6},{"x":21.8,"v":1.0},{"x":23.3,"v":2.0},{"x":24.8,"v":3.1},{"x":26.4,"v":3.7},{"x":27.9,"v":4.4},{"x":29.3,"v":4.9},{"x":31.3,"v":5.3},{"x":33.3,"v":6.0},{"x":35.3,"v":6.6},{"x":37.2,"v":7.2},{"x":38.7,"v":7.7},{"x":40.2,"v":6.9},{"x":42.2,"v":7.1},{"x":44.2,"v":7.6},{"x":46.2,"v":6.9},{"x":48.2,"v":6.0},{"x":49.7,"v":5.6},{"x":51.1,"v":5.3},{"x":53.1,"v":4.9},{"x":55.1,"v":3.9},{"x":57.1,"v":4.7},{"x":59.1,"v":4.5},{"x":61.1,"v":3.7},{"x":63.1,"v":3.1},{"x":65.1,"v":3.1},{"x":67.1,"v":3.9},{"x":69,"v":4.0},{"x":71,"v":4.2},{"x":73,"v":4.2},{"x":75,"v":4.5},{"x":77,"v":4.9},{"x":79,"v":5.6},{"x":80.5,"v":5.6},{"x":82,"v":6.3},{"x":83.5,"v":6.0},{"x":85,"v":6.9},{"x":86.4,"v":6.9},{"x":87.9,"v":8.0},{"x":89.4,"v":6.3},{"x":90.9,"v":5.3},{"x":92.9,"v":4.2},{"x":94.9,"v":3.4},{"x":96.9,"v":2.9},{"x":98.9,"v":2.4},{"x":100.9,"v":1.8},{"x":102.9,"v":1.8},{"x":104.9,"v":1.5},{"x":106.8,"v":1.5},{"x":108.8,"v":1.2},{"x":110.4,"v":-0.1},{"x":112.3,"v":-0.1},{"x":114.3,"v":0.1},{"x":116.3,"v":0.6},{"x":118.3,"v":0.4},{"x":120.2,"v":0.2},{"x":122.2,"v":-0.4},{"x":124.2,"v":-0.9},{"x":126.2,"v":-1.5},{"x":128.2,"v":-2.3},{"x":130.2,"v":-2.8},{"x":132.2,"v":-3.5},{"x":134.2,"v":-4.4},{"x":136.1,"v":-4.9},{"x":138.1,"v":-5.5},{"x":140.1,"v":-5.5},{"x":142.1,"v":-5.8},{"x":144.1,"v":-6.0},{"x":146,"v":-6.3},{"x":148,"v":-6.6},{"x":150,"v":-6.4},{"x":152,"v":-6.6}],
"wmshock":[{"x":1,"v":0.3},{"x":2,"v":0.6},{"x":3,"v":-0.9},{"x":4,"v":0.2},{"x":5,"v":-0.3},{"x":6,"v":0.6},{"x":7,"v":-0.5},{"x":8,"v":0.7},{"x":9,"v":-1.0},{"x":10,"v":-0.2},{"x":11,"v":0.3},{"x":12,"v":1.0},{"x":13,"v":-0.5},{"x":14,"v":0.1},{"x":15,"v":-0.2},{"x":16,"v":0.8},{"x":17,"v":0.3},{"x":18,"v":0.6},{"x":19,"v":-0.3},{"x":20,"v":0.3},{"x":21,"v":-0.6},{"x":22,"v":0.2},{"x":23,"v":0.4},{"x":24,"v":1.2},{"x":25,"v":-0.2},{"x":26,"v":0.3},{"x":27,"v":-0.4},{"x":28,"v":0.8},{"x":29,"v":-0.5},{"x":30,"v":0.0},{"x":32,"v":-0.2},{"x":33,"v":0.3},{"x":35,"v":-0.1},{"x":36,"v":0.4},{"x":38,"v":-0.2},{"x":40,"v":-0.3},{"x":42,"v":0.0},{"x":44,"v":0.2},{"x":45,"v":0.7},{"x":46,"v":0.0},{"x":48,"v":0.3},{"x":50,"v":-0.2},{"x":52,"v":0.2},{"x":54,"v":-0.3},{"x":56,"v":0.4},{"x":57,"v":-0.4},{"x":58,"v":0.3},{"x":60,"v":0.0},{"x":62,"v":0.4},{"x":64,"v":-0.1},{"x":66,"v":0.2},{"x":68,"v":-0.3},{"x":70,"v":0.1},{"x":72,"v":0.2},{"x":74,"v":-0.1},{"x":76,"v":0.3},{"x":78,"v":-0.2},{"x":80,"v":0.2},{"x":82,"v":-0.1},{"x":84,"v":0.2},{"x":86,"v":-0.2},{"x":88,"v":0.3},{"x":90,"v":-0.1},{"x":92,"v":0.1},{"x":94,"v":-0.2},{"x":96,"v":0.1},{"x":98,"v":0.2},{"x":100,"v":-0.1},{"x":102,"v":0.2},{"x":104,"v":-0.1},{"x":106,"v":0.2},{"x":108,"v":0.0},{"x":110,"v":0.3},{"x":112,"v":-0.2},{"x":114,"v":0.1},{"x":116,"v":-0.2},{"x":118,"v":0.2},{"x":120,"v":0.0},{"x":122,"v":-0.2},{"x":124,"v":0.1},{"x":126,"v":-0.1},{"x":128,"v":0.2},{"x":130,"v":-0.2},{"x":132,"v":0.1},{"x":134,"v":-0.2},{"x":136,"v":0.1},{"x":138,"v":-0.1},{"x":140,"v":0.3},{"x":142,"v":-0.2},{"x":144,"v":0.1},{"x":146,"v":-0.2},{"x":148,"v":0.1},{"x":150,"v":-0.1},{"x":152,"v":0.0}],
"lsshock":[{"x":1,"v":-13.5},{"x":2.4,"v":-11},{"x":3.4,"v":-12.5},{"x":4.5,"v":-10},{"x":6.1,"v":-10},{"x":7.1,"v":-9},{"x":7.6,"v":-11},{"x":8.7,"v":-7.5},{"x":9.7,"v":-10.5},{"x":10.8,"v":-12},{"x":12.4,"v":-10},{"x":14,"v":-9},{"x":15.6,"v":-6.5},{"x":16.6,"v":-6.5},{"x":17.7,"v":1.5},{"x":18.7,"v":-1.5},{"x":20.3,"v":-0.5},{"x":21.9,"v":-1},{"x":23.5,"v":0},{"x":25.1,"v":0.5},{"x":26.1,"v":-0.5},{"x":27.2,"v":1.5},{"x":28.8,"v":0.5},{"x":29.8,"v":2.5},{"x":30.9,"v":0.5},{"x":32,"v":0.5},{"x":33,"v":-0.5},{"x":34,"v":0},{"x":35.6,"v":-4},{"x":36.7,"v":0.5},{"x":37.7,"v":-1},{"x":38.8,"v":3},{"x":39.8,"v":-0.5},{"x":41.4,"v":3},{"x":43,"v":6.5},{"x":44.6,"v":7},{"x":46,"v":7},{"x":47,"v":9},{"x":48.3,"v":11},{"x":50,"v":10},{"x":52,"v":13},{"x":54,"v":10},{"x":55.5,"v":11.5},{"x":57.8,"v":13},{"x":59.4,"v":11},{"x":61.5,"v":10},{"x":63,"v":10},{"x":63.8,"v":5},{"x":65,"v":6},{"x":66.5,"v":6.5},{"x":67,"v":4},{"x":68.9,"v":2},{"x":70.4,"v":4.2},{"x":72,"v":1},{"x":73,"v":0},{"x":74.7,"v":-0.5},{"x":76.3,"v":-2.5},{"x":78.4,"v":-3.5},{"x":80.5,"v":-3.5},{"x":82,"v":-5},{"x":83.1,"v":-5},{"x":84.2,"v":-1.5},{"x":85.2,"v":-5},{"x":86.8,"v":-2},{"x":88.4,"v":1},{"x":89.4,"v":3.5},{"x":90,"v":1},{"x":90.8,"v":9.5},{"x":92.1,"v":7},{"x":94.2,"v":6},{"x":95.8,"v":7.5},{"x":97.4,"v":5},{"x":99,"v":7},{"x":100.5,"v":3},{"x":102.1,"v":6.5},{"x":103.2,"v":5},{"x":104.7,"v":6.5},{"x":106.3,"v":6},{"x":107.4,"v":7},{"x":108.9,"v":4.5},{"x":110,"v":5.5},{"x":111,"v":3},{"x":112.1,"v":1.5},{"x":113.2,"v":-1},{"x":114.8,"v":-2},{"x":116.4,"v":-3},{"x":118,"v":-4.5},{"x":119.6,"v":-6},{"x":121.1,"v":-5},{"x":122.2,"v":-8},{"x":123.7,"v":-6.5},{"x":125.8,"v":-5},{"x":127.4,"v":-5},{"x":129,"v":-5.5},{"x":130.6,"v":-3},{"x":132.2,"v":-3.5},{"x":133.8,"v":-3},{"x":135.4,"v":-3},{"x":137,"v":-4.5},{"x":138,"v":-3},{"x":139.6,"v":-5},{"x":141.2,"v":-4},{"x":142.8,"v":-5},{"x":144.3,"v":-6.5},{"x":145.9,"v":-4.5},{"x":147.5,"v":-7},{"x":149.1,"v":-5},{"x":150.7,"v":-3},{"x":152,"v":-1.5}]
}
}
